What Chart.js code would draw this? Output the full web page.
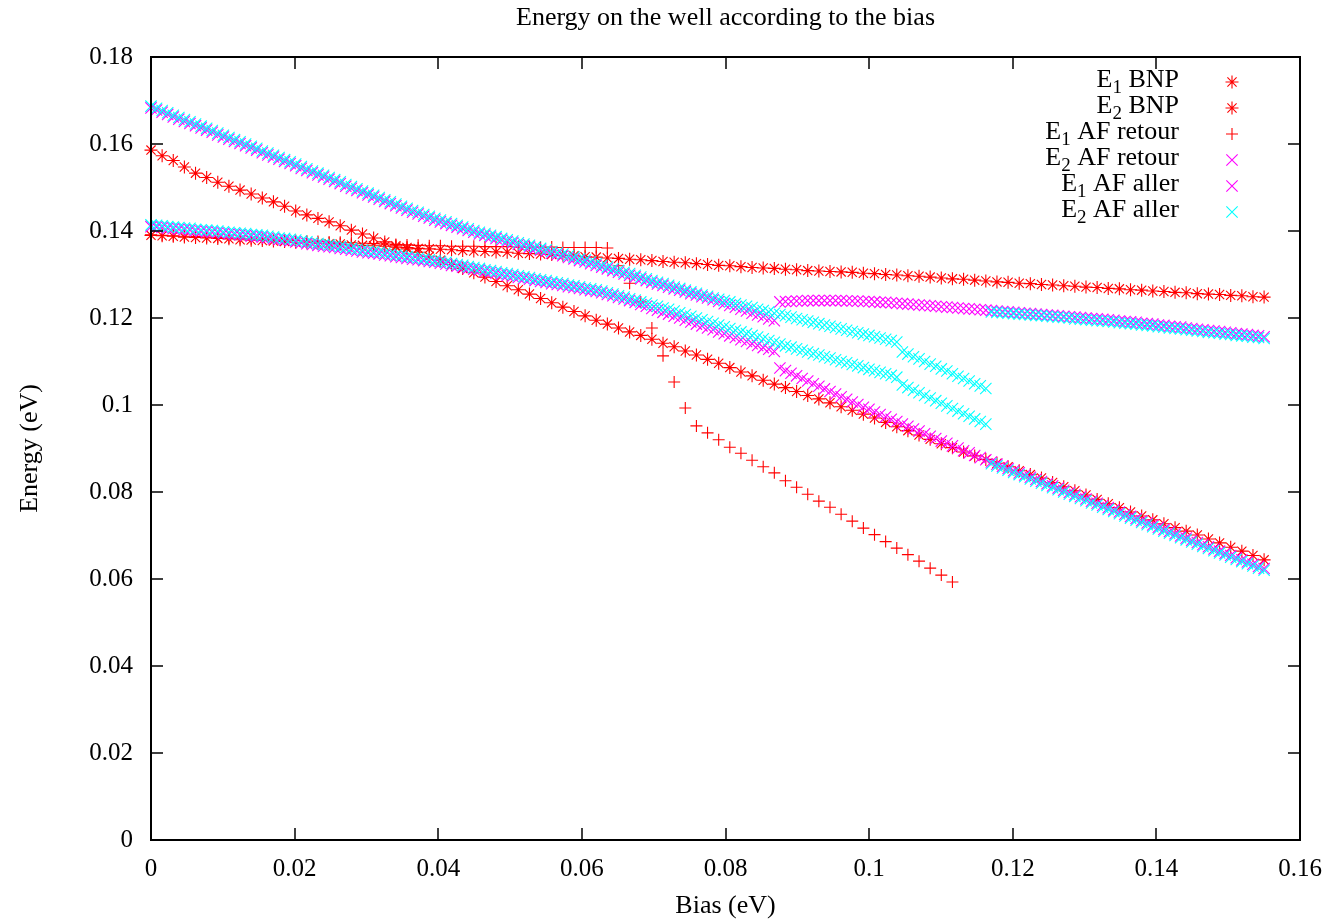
<!DOCTYPE html>
<html>
<head>
<meta charset="utf-8">
<script src="https://cdn.jsdelivr.net/npm/chart.js@4.4.0/dist/chart.umd.min.js"></script>
<style>
  html, body { margin: 0; padding: 0; background: #fff; }
  canvas { display: block; }
</style>
</head>
<body>
<canvas id="energyChart" width="1330" height="920"></canvas>
<script>
// bias grid (eV); BNP and "retour" runs use every second step
const BIAS = [0, 0.000775, 0.00155, 0.002325, 0.0031, 0.003875, 0.00465, 0.005425, 0.0062, 0.006975,
  0.00775, 0.008525, 0.0093, 0.010075, 0.01085, 0.011625, 0.0124, 0.013175, 0.01395, 0.014725,
  0.0155, 0.016275, 0.01705, 0.017825, 0.0186, 0.019375, 0.02015, 0.020925, 0.0217, 0.022475,
  0.02325, 0.024025, 0.0248, 0.025575, 0.02635, 0.027125, 0.0279, 0.028675, 0.02945, 0.030225,
  0.031, 0.031775, 0.03255, 0.033325, 0.0341, 0.034875, 0.03565, 0.036425, 0.0372, 0.037975,
  0.03875, 0.039525, 0.0403, 0.041075, 0.04185, 0.042625, 0.0434, 0.044175, 0.04495, 0.045725,
  0.0465, 0.047275, 0.04805, 0.048825, 0.0496, 0.050375, 0.05115, 0.051925, 0.0527, 0.053475,
  0.05425, 0.055025, 0.0558, 0.056575, 0.05735, 0.058125, 0.0589, 0.059675, 0.06045, 0.061225,
  0.062, 0.062775, 0.06355, 0.064325, 0.0651, 0.065875, 0.06665, 0.067425, 0.0682, 0.068975,
  0.06975, 0.070525, 0.0713, 0.072075, 0.07285, 0.073625, 0.0744, 0.075175, 0.07595, 0.076725,
  0.0775, 0.078275, 0.07905, 0.079825, 0.0806, 0.081375, 0.08215, 0.082925, 0.0837, 0.084475,
  0.08525, 0.086025, 0.0868, 0.087575, 0.08835, 0.089125, 0.0899, 0.090675, 0.09145, 0.092225,
  0.093, 0.093775, 0.09455, 0.095325, 0.0961, 0.096875, 0.09765, 0.098425, 0.0992, 0.099975,
  0.10075, 0.101525, 0.1023, 0.103075, 0.10385, 0.104625, 0.1054, 0.106175, 0.10695, 0.107725,
  0.1085, 0.109275, 0.11005, 0.110825, 0.1116, 0.112375, 0.11315, 0.113925, 0.1147, 0.115475,
  0.11625, 0.117025, 0.1178, 0.118575, 0.11935, 0.120125, 0.1209, 0.121675, 0.12245, 0.123225,
  0.124, 0.124775, 0.12555, 0.126325, 0.1271, 0.127875, 0.12865, 0.129425, 0.1302, 0.130975,
  0.13175, 0.132525, 0.1333, 0.134075, 0.13485, 0.135625, 0.1364, 0.137175, 0.13795, 0.138725,
  0.1395, 0.140275, 0.14105, 0.141825, 0.1426, 0.143375, 0.14415, 0.144925, 0.1457, 0.146475,
  0.14725, 0.148025, 0.1488, 0.149575, 0.15035, 0.151125, 0.1519, 0.152675, 0.15345, 0.154225,
  0.155];

// energies (eV)
const E1_BNP = [0.1390, 0.1389, 0.1388, 0.1386, 0.1385, 0.1384, 0.1383, 0.1382, 0.1380, 0.1379,
  0.1378, 0.1377, 0.1376, 0.1374, 0.1373, 0.1372, 0.1371, 0.1370, 0.1368, 0.1367,
  0.1366, 0.1365, 0.1363, 0.1359, 0.1351, 0.1342, 0.1333, 0.1323, 0.1314, 0.1304,
  0.1294, 0.1284, 0.1274, 0.1265, 0.1255, 0.1245, 0.1235, 0.1225, 0.1215, 0.1205,
  0.1195, 0.1186, 0.1177, 0.1168, 0.1160, 0.1151, 0.1142, 0.1134, 0.1124, 0.1115,
  0.1105, 0.1096, 0.1086, 0.1076, 0.1067, 0.1057, 0.1048, 0.1040, 0.1031, 0.1022,
  0.1014, 0.1005, 0.0996, 0.0988, 0.0979, 0.0970, 0.0960, 0.0950, 0.0941, 0.0931,
  0.0921, 0.0911, 0.0902, 0.0892, 0.0883, 0.0875, 0.0866, 0.0858, 0.0849, 0.0840,
  0.0832, 0.0822, 0.0812, 0.0803, 0.0793, 0.0783, 0.0773, 0.0764, 0.0754, 0.0745,
  0.0736, 0.0727, 0.0718, 0.0710, 0.0701, 0.0692, 0.0683, 0.0673, 0.0664, 0.0654,
  0.0644];

const E2_BNP = [0.1586, 0.1573, 0.1562, 0.1547, 0.1533, 0.1523, 0.1512, 0.1503, 0.1494, 0.1485,
  0.1476, 0.1467, 0.1457, 0.1446, 0.1437, 0.1429, 0.1421, 0.1412, 0.1402, 0.1393,
  0.1384, 0.1375, 0.1366, 0.1362, 0.1360, 0.1359, 0.1358, 0.1357, 0.1355, 0.1354,
  0.1353, 0.1352, 0.1351, 0.1349, 0.1348, 0.1347, 0.1346, 0.1344, 0.1343, 0.1341,
  0.1340, 0.1338, 0.1337, 0.1335, 0.1334, 0.1332, 0.1330, 0.1328, 0.1327, 0.1325,
  0.1323, 0.1321, 0.1320, 0.1318, 0.1316, 0.1315, 0.1314, 0.1312, 0.1311, 0.1309,
  0.1308, 0.1307, 0.1306, 0.1305, 0.1303, 0.1302, 0.1300, 0.1299, 0.1297, 0.1296,
  0.1294, 0.1292, 0.1290, 0.1289, 0.1287, 0.1285, 0.1283, 0.1282, 0.1280, 0.1279,
  0.1277, 0.1276, 0.1274, 0.1273, 0.1271, 0.1270, 0.1268, 0.1267, 0.1265, 0.1264,
  0.1262, 0.1261, 0.1259, 0.1258, 0.1256, 0.1255, 0.1254, 0.1252, 0.1251, 0.1249,
  0.1248];

const E1_AF_RETOUR = [0.1391, 0.1390, 0.1389, 0.1388, 0.1387, 0.1386, 0.1385, 0.1384, 0.1383, 0.1382,
  0.1381, 0.1380, 0.1379, 0.1378, 0.1377, 0.1376, 0.1375, 0.1374, 0.1373, 0.1372,
  0.1371, 0.1370, 0.1369, 0.1368, 0.1367, 0.1366, 0.1366, 0.1365, 0.1365, 0.1365,
  0.1364, 0.1364, 0.1364, 0.1363, 0.1363, 0.1363, 0.1363, 0.1362, 0.1362, 0.1362,
  0.1362, 0.1361, 0.1320, 0.1280, 0.1237, 0.1177, 0.1113, 0.1053, 0.0993, 0.0952,
  0.0936, 0.0920, 0.0903, 0.0889, 0.0873, 0.0858, 0.0844, 0.0826, 0.0811, 0.0795,
  0.0779, 0.0765, 0.0749, 0.0733, 0.0717, 0.0702, 0.0686, 0.0671, 0.0656, 0.0641,
  0.0625, 0.0609, 0.0593];

const E2_AF_RETOUR = [0.1683, 0.1678, 0.1673, 0.1668, 0.1662, 0.1657, 0.1652, 0.1647, 0.1642, 0.1637,
  0.1632, 0.1627, 0.1621, 0.1616, 0.1611, 0.1606, 0.1601, 0.1596, 0.1591, 0.1586,
  0.1580, 0.1575, 0.1570, 0.1565, 0.1560, 0.1555, 0.1550, 0.1544, 0.1539, 0.1534,
  0.1529, 0.1524, 0.1519, 0.1514, 0.1509, 0.1503, 0.1498, 0.1493, 0.1488, 0.1483,
  0.1478, 0.1473, 0.1468, 0.1463, 0.1458, 0.1453, 0.1448, 0.1443, 0.1439, 0.1434,
  0.1430, 0.1425, 0.1421, 0.1417, 0.1413, 0.1409, 0.1405, 0.1401, 0.1397, 0.1393,
  0.1390, 0.1386, 0.1383, 0.1379, 0.1376, 0.1373, 0.1369, 0.1366, 0.1363, 0.1359,
  0.1356, 0.1353, 0.1349, 0.1346, 0.1343, 0.1339, 0.1336, 0.1332, 0.1329, 0.1325,
  0.1321, 0.1317, 0.1313, 0.1309, 0.1305, 0.1301, 0.1298, 0.1294, 0.1290, 0.1286,
  0.1282, 0.1278, 0.1275, 0.1271, 0.1267, 0.1264, 0.1260, 0.1256, 0.1253, 0.1249,
  0.1246, 0.1242, 0.1238, 0.1233, 0.1229, 0.1225, 0.1220, 0.1216, 0.1211, 0.1207,
  0.1203, 0.1198, 0.1194, 0.1237, 0.1238, 0.1238, 0.1239, 0.1239, 0.1240, 0.1240,
  0.1240, 0.1240, 0.1240, 0.1240, 0.1240, 0.1239, 0.1239, 0.1239, 0.1238, 0.1238,
  0.1237, 0.1236, 0.1236, 0.1235, 0.1234, 0.1233, 0.1232, 0.1231, 0.1230, 0.1229,
  0.1228, 0.1227, 0.1226, 0.1225, 0.1224, 0.1223, 0.1222, 0.1221, 0.1220, 0.1219,
  0.1218, 0.1217, 0.1216, 0.1215, 0.1214, 0.1213, 0.1212, 0.1211, 0.1210, 0.1209,
  0.1208, 0.1207, 0.1206, 0.1205, 0.1204, 0.1203, 0.1202, 0.1201, 0.1200, 0.1199,
  0.1198, 0.1197, 0.1196, 0.1195, 0.1193, 0.1192, 0.1191, 0.1190, 0.1188, 0.1187,
  0.1186, 0.1184, 0.1183, 0.1181, 0.1180, 0.1179, 0.1177, 0.1176, 0.1174, 0.1173,
  0.1171, 0.1170, 0.1169, 0.1167, 0.1166, 0.1164, 0.1163, 0.1162, 0.1160, 0.1159,
  0.1157];

const E1_AF_ALLER = [0.1410, 0.1409, 0.1408, 0.1406, 0.1405, 0.1404, 0.1403, 0.1402, 0.1400, 0.1399,
  0.1398, 0.1397, 0.1396, 0.1394, 0.1393, 0.1392, 0.1391, 0.1390, 0.1388, 0.1387,
  0.1386, 0.1384, 0.1382, 0.1380, 0.1379, 0.1377, 0.1375, 0.1373, 0.1371, 0.1369,
  0.1367, 0.1365, 0.1364, 0.1362, 0.1360, 0.1358, 0.1356, 0.1354, 0.1352, 0.1350,
  0.1349, 0.1347, 0.1345, 0.1343, 0.1341, 0.1339, 0.1337, 0.1335, 0.1334, 0.1332,
  0.1330, 0.1328, 0.1326, 0.1324, 0.1321, 0.1319, 0.1317, 0.1314, 0.1312, 0.1310,
  0.1307, 0.1305, 0.1303, 0.1300, 0.1298, 0.1296, 0.1293, 0.1291, 0.1289, 0.1286,
  0.1284, 0.1282, 0.1279, 0.1277, 0.1275, 0.1272, 0.1270, 0.1268, 0.1265, 0.1263,
  0.1261, 0.1258, 0.1254, 0.1251, 0.1247, 0.1244, 0.1240, 0.1236, 0.1231, 0.1227,
  0.1222, 0.1218, 0.1213, 0.1209, 0.1204, 0.1200, 0.1195, 0.1191, 0.1186, 0.1182,
  0.1177, 0.1173, 0.1168, 0.1164, 0.1159, 0.1155, 0.1150, 0.1146, 0.1141, 0.1137,
  0.1132, 0.1128, 0.1123, 0.1085, 0.1079, 0.1073, 0.1067, 0.1061, 0.1055, 0.1049,
  0.1043, 0.1037, 0.1031, 0.1025, 0.1019, 0.1013, 0.1007, 0.1001, 0.0995, 0.0990,
  0.0984, 0.0978, 0.0973, 0.0967, 0.0962, 0.0956, 0.0951, 0.0945, 0.0940, 0.0934,
  0.0928, 0.0923, 0.0917, 0.0912, 0.0906, 0.0901, 0.0895, 0.0890, 0.0884, 0.0879,
  0.0874, 0.0869, 0.0864, 0.0859, 0.0854, 0.0849, 0.0844, 0.0839, 0.0834, 0.0829,
  0.0824, 0.0819, 0.0814, 0.0809, 0.0804, 0.0799, 0.0794, 0.0789, 0.0784, 0.0779,
  0.0774, 0.0769, 0.0764, 0.0759, 0.0754, 0.0749, 0.0744, 0.0739, 0.0734, 0.0729,
  0.0724, 0.0719, 0.0714, 0.0709, 0.0704, 0.0699, 0.0694, 0.0689, 0.0684, 0.0679,
  0.0674, 0.0669, 0.0664, 0.0659, 0.0654, 0.0649, 0.0644, 0.0639, 0.0634, 0.0629,
  0.0624];

// E2 AF aller has two branches in the file
const E2_AF_ALLER_UP = [0.1687, 0.1682, 0.1677, 0.1672, 0.1666, 0.1661, 0.1656, 0.1651, 0.1646, 0.1641,
  0.1636, 0.1631, 0.1625, 0.1620, 0.1615, 0.1610, 0.1605, 0.1600, 0.1595, 0.1590,
  0.1584, 0.1579, 0.1574, 0.1569, 0.1564, 0.1559, 0.1554, 0.1548, 0.1543, 0.1538,
  0.1533, 0.1528, 0.1523, 0.1518, 0.1513, 0.1507, 0.1502, 0.1497, 0.1492, 0.1487,
  0.1482, 0.1477, 0.1472, 0.1467, 0.1462, 0.1457, 0.1452, 0.1447, 0.1443, 0.1438,
  0.1434, 0.1429, 0.1425, 0.1421, 0.1417, 0.1413, 0.1409, 0.1405, 0.1401, 0.1397,
  0.1394, 0.1390, 0.1387, 0.1383, 0.1380, 0.1377, 0.1373, 0.1370, 0.1367, 0.1363,
  0.1360, 0.1357, 0.1353, 0.1350, 0.1347, 0.1343, 0.1340, 0.1336, 0.1333, 0.1329,
  0.1325, 0.1321, 0.1317, 0.1313, 0.1309, 0.1305, 0.1302, 0.1298, 0.1294, 0.1290,
  0.1286, 0.1282, 0.1279, 0.1275, 0.1271, 0.1268, 0.1264, 0.1260, 0.1257, 0.1253,
  0.1250, 0.1246, 0.1243, 0.1240, 0.1237, 0.1233, 0.1230, 0.1227, 0.1224, 0.1220,
  0.1217, 0.1214, 0.1211, 0.1208, 0.1205, 0.1202, 0.1199, 0.1196, 0.1193, 0.1190,
  0.1187, 0.1184, 0.1181, 0.1178, 0.1175, 0.1172, 0.1169, 0.1166, 0.1163, 0.1160,
  0.1157, 0.1154, 0.1151, 0.1148, 0.1145, 0.1122, 0.1117, 0.1111, 0.1106, 0.1100,
  0.1094, 0.1089, 0.1083, 0.1078, 0.1072, 0.1066, 0.1061, 0.1055, 0.1049, 0.1044,
  0.1038, 0.1214, 0.1213, 0.1212, 0.1211, 0.1210, 0.1209, 0.1208, 0.1207, 0.1206,
  0.1205, 0.1204, 0.1203, 0.1202, 0.1201, 0.1200, 0.1198, 0.1197, 0.1196, 0.1195,
  0.1194, 0.1193, 0.1192, 0.1191, 0.1189, 0.1188, 0.1187, 0.1186, 0.1184, 0.1183,
  0.1182, 0.1180, 0.1179, 0.1177, 0.1176, 0.1175, 0.1173, 0.1172, 0.1170, 0.1169,
  0.1167, 0.1166, 0.1165, 0.1163, 0.1162, 0.1160, 0.1159, 0.1158, 0.1156, 0.1155,
  0.1153];

const E2_AF_ALLER_LOW = [0.1414, 0.1413, 0.1412, 0.1410, 0.1409, 0.1408, 0.1407, 0.1406, 0.1404, 0.1403,
  0.1402, 0.1401, 0.1400, 0.1398, 0.1397, 0.1396, 0.1395, 0.1394, 0.1392, 0.1391,
  0.1390, 0.1388, 0.1386, 0.1384, 0.1383, 0.1381, 0.1379, 0.1377, 0.1375, 0.1373,
  0.1371, 0.1369, 0.1368, 0.1366, 0.1364, 0.1362, 0.1360, 0.1358, 0.1356, 0.1354,
  0.1353, 0.1351, 0.1349, 0.1347, 0.1345, 0.1343, 0.1341, 0.1339, 0.1338, 0.1336,
  0.1334, 0.1332, 0.1330, 0.1328, 0.1325, 0.1323, 0.1321, 0.1318, 0.1316, 0.1314,
  0.1311, 0.1309, 0.1307, 0.1304, 0.1302, 0.1300, 0.1297, 0.1295, 0.1293, 0.1290,
  0.1288, 0.1286, 0.1283, 0.1281, 0.1279, 0.1276, 0.1274, 0.1272, 0.1269, 0.1267,
  0.1265, 0.1262, 0.1258, 0.1255, 0.1251, 0.1248, 0.1244, 0.1241, 0.1237, 0.1234,
  0.1230, 0.1227, 0.1223, 0.1220, 0.1216, 0.1212, 0.1208, 0.1204, 0.1200, 0.1196,
  0.1192, 0.1188, 0.1184, 0.1180, 0.1176, 0.1172, 0.1168, 0.1164, 0.1160, 0.1156,
  0.1152, 0.1148, 0.1144, 0.1140, 0.1136, 0.1133, 0.1129, 0.1126, 0.1122, 0.1118,
  0.1115, 0.1111, 0.1108, 0.1104, 0.1100, 0.1097, 0.1093, 0.1090, 0.1086, 0.1082,
  0.1079, 0.1075, 0.1072, 0.1068, 0.1064, 0.1046, 0.1040, 0.1034, 0.1028, 0.1022,
  0.1016, 0.1010, 0.1004, 0.0998, 0.0992, 0.0986, 0.0980, 0.0974, 0.0968, 0.0962,
  0.0956, 0.0865, 0.0860, 0.0855, 0.0850, 0.0845, 0.0840, 0.0835, 0.0830, 0.0825,
  0.0820, 0.0815, 0.0810, 0.0805, 0.0800, 0.0795, 0.0790, 0.0785, 0.0780, 0.0775,
  0.0770, 0.0765, 0.0760, 0.0755, 0.0750, 0.0745, 0.0740, 0.0735, 0.0730, 0.0725,
  0.0720, 0.0715, 0.0710, 0.0705, 0.0700, 0.0695, 0.0690, 0.0685, 0.0680, 0.0675,
  0.0670, 0.0665, 0.0660, 0.0655, 0.0650, 0.0645, 0.0640, 0.0635, 0.0630, 0.0625,
  0.0620];

// legend texts: [letter, subscript, rest]
const LABELS = [
  ['E', '1', ' BNP'],
  ['E', '2', ' BNP'],
  ['E', '1', ' AF retour'],
  ['E', '2', ' AF retour'],
  ['E', '1', ' AF aller'],
  ['E', '2', ' AF aller']
];

const RED = '#ff0000', MAGENTA = '#ff00ff', CYAN = '#00ffff';
const SERIF = "'Liberation Serif', 'Times New Roman', serif";
const SIZE = { star: 6.5, cross: 6, crossRot: 8 };

const pts = (ys, step) => ys.map((y, i) => ({ x: BIAS[i * step], y }));

function series(label, data, style, color, order) {
  return {
    label, data, order,
    pointStyle: style,
    pointRadius: SIZE[style],
    pointBorderColor: color,
    pointBackgroundColor: color,
    pointBorderWidth: 1.1,
    showLine: false,
    clip: false
  };
}

const datasets = [
  series('E1 BNP', pts(E1_BNP, 2), 'star', RED, 6),
  series('E2 BNP', pts(E2_BNP, 2), 'star', RED, 5),
  series('E1 AF retour', pts(E1_AF_RETOUR, 2), 'cross', RED, 4),
  series('E2 AF retour', pts(E2_AF_RETOUR, 1), 'crossRot', MAGENTA, 3),
  series('E1 AF aller', pts(E1_AF_ALLER, 1), 'crossRot', MAGENTA, 2),
  series('E2 AF aller', pts(E2_AF_ALLER_UP, 1).concat(pts(E2_AF_ALLER_LOW, 1)), 'crossRot', CYAN, 1)
];

function drawMarker(ctx, style, x, y, r) {
  ctx.beginPath();
  if (style === 'cross' || style === 'star') {
    ctx.moveTo(x - r, y); ctx.lineTo(x + r, y);
    ctx.moveTo(x, y - r); ctx.lineTo(x, y + r);
  }
  if (style === 'crossRot' || style === 'star') {
    const d = r * 0.707;
    ctx.moveTo(x - d, y - d); ctx.lineTo(x + d, y + d);
    ctx.moveTo(x - d, y + d); ctx.lineTo(x + d, y - d);
  }
  ctx.stroke();
}

const gnuplotFrame = {
  id: 'gnuplotFrame',
  afterDraw(chart) {
    const { ctx, chartArea: a, scales: { x, y } } = chart;
    ctx.save();
    ctx.strokeStyle = '#000';
    ctx.lineWidth = 1.5;
    ctx.beginPath();
    x.ticks.forEach(t => {
      const px = Math.round(x.getPixelForValue(t.value));
      ctx.moveTo(px, a.bottom); ctx.lineTo(px, a.bottom - 12);
      ctx.moveTo(px, a.top); ctx.lineTo(px, a.top + 12);
    });
    y.ticks.forEach(t => {
      const py = Math.round(y.getPixelForValue(t.value));
      ctx.moveTo(a.left, py); ctx.lineTo(a.left + 12, py);
      ctx.moveTo(a.right, py); ctx.lineTo(a.right - 12, py);
    });
    ctx.stroke();
    ctx.lineWidth = 2;
    ctx.strokeRect(a.left, a.top, a.right - a.left, a.bottom - a.top);

    // titles
    ctx.fillStyle = '#000';
    ctx.font = '26px ' + SERIF;
    ctx.textAlign = 'center';
    ctx.textBaseline = 'middle';
    const cx = (a.left + a.right) / 2;
    ctx.fillText('Energy on the well according to the bias', cx, 18);
    ctx.fillText('Bias (eV)', cx, 906);
    ctx.save();
    ctx.translate(30, (a.top + a.bottom) / 2);
    ctx.rotate(-Math.PI / 2);
    ctx.fillText('Energy (eV)', 0, 0);
    ctx.restore();

    // legend, text right-aligned, marker on the right
    ctx.textAlign = 'left';
    ctx.textBaseline = 'alphabetic';
    LABELS.forEach((lab, i) => {
      const base = 87 + i * 26;
      ctx.font = '26px ' + SERIF;
      const wE = ctx.measureText(lab[0]).width;
      const wR = ctx.measureText(lab[2]).width;
      ctx.font = '19px ' + SERIF;
      const wS = ctx.measureText(lab[1]).width;
      const tx = 1179 - (wE + wS + wR);
      ctx.font = '26px ' + SERIF;
      ctx.fillText(lab[0], tx, base);
      ctx.font = '19px ' + SERIF;
      ctx.fillText(lab[1], tx + wE, base + 6);
      ctx.font = '26px ' + SERIF;
      ctx.fillText(lab[2], tx + wE + wS, base);

      const d = datasets[i];
      ctx.strokeStyle = d.pointBorderColor;
      ctx.lineWidth = 1.1;
      drawMarker(ctx, d.pointStyle, 1232, base - 5, SIZE[d.pointStyle]);
    });
    ctx.restore();
  }
};

const fmt = v => String(+v.toFixed(2));

new Chart(document.getElementById('energyChart'), {
  type: 'scatter',
  data: { datasets },
  options: {
    responsive: false,
    animation: false,
    events: [],
    devicePixelRatio: 1,
    layout: { padding: { top: 57, right: 30, left: 0, bottom: 0 } },
    plugins: {
      legend: { display: false },
      tooltip: { enabled: false },
      title: { display: false }
    },
    scales: {
      x: {
        type: 'linear', min: 0, max: 0.16,
        grid: { display: false, drawTicks: false },
        border: { display: false },
        ticks: { stepSize: 0.02, padding: 14, color: '#000', font: { family: SERIF, size: 25 }, callback: fmt, maxRotation: 0 },
        afterFit: s => { s.height = 80; s.paddingLeft = 0; s.paddingRight = 0; }
      },
      y: {
        type: 'linear', min: 0, max: 0.18,
        grid: { display: false, drawTicks: false },
        border: { display: false },
        ticks: { stepSize: 0.02, padding: 18, color: '#000', font: { family: SERIF, size: 25 }, callback: fmt },
        afterFit: s => { s.width = 151; s.paddingTop = 0; s.paddingBottom = 0; }
      }
    }
  },
  plugins: [gnuplotFrame]
});
</script>
</body>
</html>
